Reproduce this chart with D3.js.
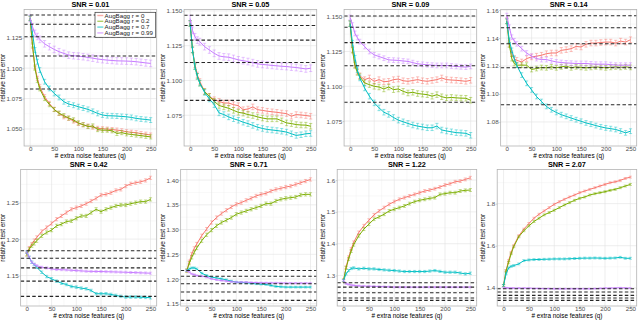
<!DOCTYPE html>
<html><head><meta charset="utf-8">
<script src="https://cdn.jsdelivr.net/npm/d3@7"></script>
<style>body{margin:0;background:#fff}svg{display:block}</style>
</head><body><svg id="c" width="640" height="320"></svg>
<script>
const titles = ["SNR = 0.01","SNR = 0.05","SNR = 0.09","SNR = 0.14","SNR = 0.42","SNR = 0.71","SNR = 1.22","SNR = 2.07"];
const seriesNames = ["AugBagg r = 0","AugBagg r = 0.2","AugBagg r = 0.7","AugBagg r = 0.99"];
const q = [0,5,10,15,20,30,40,50,60,70,80,90,100,110,120,130,140,150,160,170,180,190,200,210,220,230,240,250];
const xTicks = [0,50,100,150,200,250];
const xLabel = "# extra noise features (q)";
const yLabel = "relative test error";

// r = 0
const r0 = [
 [1.141,1.118,1.101,1.0916,1.0847,1.0765,1.071,1.0661,1.0628,1.060,1.0587,1.0565,1.0546,1.0535,1.0524,1.0515,1.0505,1.0502,1.0499,1.0495,1.0491,1.0485,1.0477,1.0473,1.0469,1.0462,1.0457,1.045],
 [1.141,1.122,1.1112,1.104,1.0993,1.0921,1.0886,1.0862,1.085,1.0838,1.0838,1.0826,1.0819,1.079,1.0795,1.081,1.079,1.0785,1.0779,1.0775,1.0771,1.0766,1.0762,1.0743,1.0755,1.0752,1.0748,1.0743],
 [1.1452,1.1262,1.1155,1.1107,1.1076,1.1048,1.106,1.1036,1.1048,1.1033,1.1036,1.1048,1.1052,1.104,1.1036,1.1042,1.1048,1.104,1.1036,1.1042,1.1048,1.106,1.1048,1.1045,1.1043,1.104,1.1036,1.1043],
 [1.1524,1.1359,1.1288,1.1253,1.1241,1.1229,1.1253,1.1265,1.127,1.1277,1.1288,1.1293,1.1293,1.1312,1.1317,1.1324,1.134,1.1336,1.1355,1.1364,1.1364,1.1368,1.1371,1.1371,1.1364,1.1378,1.1371,1.1388],
 [1.179,1.1877,1.1932,1.198,1.2023,1.2105,1.2159,1.2214,1.2273,1.2318,1.2364,1.2409,1.2432,1.2455,1.2486,1.2523,1.2559,1.2605,1.2614,1.2636,1.2668,1.2682,1.2727,1.2759,1.2773,1.2786,1.2805,1.2841],
 [1.2171,1.235,1.2506,1.262,1.2707,1.2875,1.3009,1.3143,1.3243,1.3324,1.339,1.3457,1.3511,1.3545,1.3591,1.3632,1.3679,1.3712,1.3732,1.3779,1.3812,1.3833,1.3859,1.3879,1.3913,1.3946,1.398,1.4013],
 [1.2844,1.326,1.3573,1.383,1.4042,1.4354,1.4563,1.474,1.4906,1.5031,1.5135,1.524,1.5323,1.5396,1.5448,1.55,1.5552,1.5604,1.5656,1.5688,1.5729,1.5781,1.5844,1.5885,1.5948,1.5969,1.6021,1.6073],
 [1.411,1.4819,1.5291,1.568,1.600,1.6472,1.6787,1.7055,1.7307,1.7496,1.7654,1.7811,1.7969,1.8094,1.8205,1.8315,1.8409,1.852,1.8598,1.8677,1.8756,1.8835,1.8913,1.8992,1.9039,1.9102,1.9197,1.926]
];
// r = 0.2
const r02 = [
 [1.141,1.119,1.100,1.090,1.083,1.075,1.070,1.066,1.063,1.061,1.059,1.0575,1.055,1.0535,1.052,1.0525,1.0495,1.049,1.049,1.0485,1.0463,1.047,1.046,1.0455,1.045,1.0445,1.044,1.0435],
 [1.141,1.122,1.110,1.103,1.098,1.092,1.0885,1.085,1.082,1.081,1.080,1.0785,1.0771,1.0765,1.0755,1.0748,1.0738,1.073,1.0724,1.0724,1.0724,1.071,1.0695,1.069,1.0683,1.068,1.0679,1.0671],
 [1.145,1.126,1.115,1.110,1.107,1.1024,1.1012,1.100,1.0995,1.0981,1.0995,1.0976,1.0981,1.0964,1.0952,1.0957,1.0948,1.0944,1.094,1.0929,1.094,1.0925,1.0917,1.092,1.0917,1.0915,1.0914,1.090],
 [1.152,1.135,1.1253,1.1218,1.1206,1.1206,1.1206,1.1175,1.1182,1.1189,1.1187,1.1194,1.1187,1.1194,1.1199,1.1187,1.1194,1.119,1.1187,1.119,1.1194,1.119,1.1187,1.119,1.1194,1.119,1.1194,1.119],
 [1.179,1.1864,1.1909,1.194,1.1977,1.2045,1.2091,1.2123,1.2182,1.2205,1.2241,1.225,1.2286,1.2318,1.2318,1.2364,1.2409,1.2377,1.2409,1.2432,1.2455,1.2468,1.2468,1.2486,1.25,1.2514,1.2514,1.2545],
 [1.2171,1.232,1.2439,1.254,1.2627,1.2774,1.2895,1.2989,1.3076,1.3143,1.319,1.3243,1.331,1.3344,1.3377,1.3411,1.3444,1.3478,1.3524,1.3524,1.3578,1.3612,1.3632,1.3645,1.3658,1.3699,1.3712,1.3712],
 [1.2844,1.324,1.352,1.377,1.3969,1.425,1.4458,1.4615,1.4771,1.4844,1.4927,1.5031,1.5083,1.5135,1.5188,1.526,1.5323,1.5365,1.5396,1.5427,1.5448,1.5552,1.5573,1.5604,1.5604,1.5656,1.5677,1.5688],
 [1.411,1.480,1.5213,1.562,1.5953,1.6425,1.6709,1.6945,1.715,1.7307,1.7465,1.7575,1.7685,1.7811,1.7937,1.8047,1.8157,1.8252,1.8315,1.8409,1.8472,1.852,1.8567,1.863,1.8677,1.8756,1.8835,1.8913]
];
// r = 0.7
const r07 = [
 [1.141,1.1286,1.1149,1.1053,1.0984,1.0888,1.0833,1.0792,1.0759,1.0724,1.0705,1.0695,1.0683,1.0672,1.0661,1.0645,1.0628,1.0615,1.0609,1.0608,1.0606,1.0603,1.060,1.0595,1.0587,1.0582,1.0578,1.0573],
 [1.141,1.1219,1.110,1.1029,1.0981,1.0914,1.0867,1.0826,1.0767,1.0755,1.0738,1.0725,1.0714,1.070,1.069,1.0677,1.0664,1.0655,1.0648,1.0644,1.064,1.0635,1.0629,1.0617,1.0605,1.061,1.0617,1.0619],
 [1.145,1.131,1.1202,1.1119,1.106,1.0988,1.0929,1.0881,1.0845,1.0814,1.0798,1.0776,1.0757,1.0745,1.0733,1.0722,1.0714,1.0708,1.0702,1.0702,1.0714,1.0686,1.0679,1.0673,1.0667,1.0665,1.0662,1.0648],
 [1.152,1.1383,1.1312,1.1253,1.1206,1.1135,1.1076,1.1029,1.0982,1.0946,1.0911,1.0887,1.0868,1.0852,1.084,1.0828,1.0816,1.0805,1.0793,1.0784,1.0774,1.0765,1.0757,1.0752,1.0746,1.0735,1.0722,1.0734],
 [1.182,1.175,1.1682,1.165,1.1614,1.1545,1.1486,1.1455,1.1423,1.1395,1.1377,1.135,1.1341,1.1327,1.1318,1.1295,1.125,1.125,1.125,1.1241,1.1227,1.1214,1.1205,1.1205,1.1205,1.1202,1.12,1.1195],
 [1.2171,1.2205,1.2225,1.2225,1.2205,1.2118,1.2071,1.2037,1.2024,1.2004,1.1984,1.1957,1.1937,1.193,1.1924,1.1914,1.1904,1.1897,1.189,1.187,1.185,1.1843,1.1837,1.1837,1.1837,1.1837,1.1837,1.1837],
 [1.2844,1.3052,1.3156,1.322,1.324,1.3208,1.3229,1.3208,1.3208,1.319,1.3177,1.3166,1.3156,1.314,1.3125,1.3125,1.3125,1.3125,1.3125,1.314,1.3156,1.313,1.3104,1.3104,1.3104,1.308,1.3052,1.3073],
 [1.411,1.4661,1.4945,1.502,1.5055,1.5134,1.5291,1.5323,1.5339,1.5345,1.5354,1.536,1.537,1.537,1.537,1.538,1.539,1.5402,1.541,1.541,1.5417,1.541,1.5402,1.541,1.5417,1.5449,1.5402,1.5402]
];
// r = 0.99
const r099 = [
 [1.141,1.134,1.1286,1.126,1.1236,1.120,1.1176,1.1154,1.1135,1.1121,1.1107,1.1102,1.1099,1.1094,1.1088,1.1082,1.1075,1.107,1.1066,1.1063,1.106,1.1059,1.1058,1.1056,1.1053,1.1048,1.1043,1.1039],
 [1.1445,1.136,1.1314,1.129,1.1279,1.1243,1.1219,1.1195,1.1176,1.117,1.1167,1.1158,1.1148,1.1142,1.1136,1.1128,1.1119,1.1115,1.1112,1.1108,1.1105,1.1102,1.110,1.1096,1.1093,1.1088,1.1083,1.1088],
 [1.1495,1.144,1.138,1.135,1.1321,1.1286,1.125,1.1226,1.1214,1.1202,1.119,1.1188,1.1186,1.1182,1.1179,1.117,1.1162,1.1158,1.1155,1.1152,1.115,1.115,1.115,1.1146,1.1143,1.114,1.1138,1.1143],
 [1.156,1.1477,1.1406,1.138,1.1359,1.1324,1.1293,1.127,1.1253,1.1246,1.1246,1.1237,1.1229,1.1225,1.1222,1.122,1.1218,1.1218,1.1218,1.1215,1.1213,1.1213,1.1213,1.121,1.1206,1.1206,1.1206,1.1206],
 [1.182,1.175,1.1682,1.1655,1.1636,1.1614,1.1605,1.1591,1.1582,1.158,1.1577,1.1572,1.1568,1.1564,1.1559,1.1557,1.1556,1.1555,1.1553,1.1551,1.1549,1.1547,1.1545,1.1542,1.154,1.1537,1.1535,1.1532],
 [1.2171,1.2138,1.2104,1.209,1.2071,1.2058,1.2037,1.2004,1.1984,1.197,1.1957,1.1947,1.1937,1.1937,1.1937,1.193,1.1927,1.1924,1.1923,1.1922,1.1921,1.192,1.1917,1.1917,1.1917,1.1917,1.1917,1.1917],
 [1.2844,1.274,1.2719,1.27,1.2688,1.2677,1.2667,1.2663,1.266,1.2655,1.265,1.2645,1.2635,1.2635,1.2635,1.2635,1.2635,1.2635,1.2635,1.2635,1.2635,1.2635,1.2635,1.2635,1.2635,1.2635,1.2635,1.2635],
 [1.40,1.40,1.3984,1.3984,1.3984,1.3984,1.3984,1.3984,1.397,1.397,1.396,1.396,1.3953,1.3953,1.3953,1.3953,1.3953,1.3953,1.3953,1.3953,1.396,1.397,1.3984,1.3984,1.399,1.40,1.399,1.3984]
];
// error-bar half widths per panel: [r0, r0.2, r0.7, r0.99]
const errHalf = [
 [0.0017,0.0017,0.002,0.0027],
 [0.002,0.002,0.002,0.0024],
 [0.002,0.002,0.002,0.0017],
 [0.002,0.0017,0.0017,0.0017],
 [0.0022,0.0022,0.0017,0.0014],
 [0.0033,0.0033,0.0017,0.0014],
 [0.0045,0.0045,0.0035,0.0022],
 [0.0045,0.0045,0.0045,0.0022]
];
// horizontal dashed reference levels per panel
const dashed = [
 [1.1437,1.136,1.1258,1.110,1.0828],
 [1.1469,1.1395,1.129,1.1129,1.0857],
 [1.1505,1.1424,1.1314,1.1148,1.0886],
 [1.156,1.1473,1.1359,1.1187,1.0923],
 [1.1841,1.1736,1.1605,1.1423,1.1214],
 [1.2171,1.2058,1.1904,1.1736,1.1569],
 [1.2771,1.2635,1.2458,1.2292,1.2219],
 [1.3953,1.3795,1.3638,1.3512,1.3402]
];
const yDomains = [
 [1.036,1.1482],[1.0529,1.151],[1.0571,1.1552],[1.0628,1.1604],
 [1.1082,1.2955],[1.1455,1.4214],[1.2042,1.6333],[1.3134,1.9622]
];
const yTicks = [
 [1.050,1.075,1.100,1.125],[1.075,1.100,1.125,1.150],[1.075,1.100,1.125,1.150],[1.08,1.10,1.12,1.14,1.16],
 [1.15,1.20,1.25],[1.15,1.20,1.25,1.30,1.35,1.40],[1.3,1.4,1.5,1.6],[1.4,1.6,1.8]
];
const tickFormats = [".3f",".3f",".3f",".2f",".2f",".2f",".1f",".1f"];
const colors = ["#F8766D","#7CAE00","#00BFC4","#C77CFF"];

const allSeries = [r0, r02, r07, r099];
const FONT = "'Liberation Sans', Arial, Helvetica, sans-serif";
const svg = d3.select("#c");

titles.forEach((title, i) => {
  const col = i % 4, row = Math.floor(i / 4);
  const g = svg.append("g").attr("transform", `translate(${col*160},${row*160})`);
  const fmt = d3.format(tickFormats[i]);
  const tmp = g.append("text").style("font-size","6.2px").style("font-family",FONT);
  let tw = 0;
  yTicks[i].forEach(v => { tmp.text(fmt(v)); tw = Math.max(tw, tmp.node().getComputedTextLength()); });
  tmp.remove();
  const L = 8.6 + tw, R = 156.7, T = 9.5, B = 146;
  const x = d3.scaleLinear().domain([-12.5, 262.5]).range([L, R]);
  const y = d3.scaleLinear().domain(yDomains[i]).range([B, T]);

  // grid
  const grid = g.append("g");
  const yt = yTicks[i];
  const step = yt[1] - yt[0];
  const yMinor = [];
  for (let k = -1; k < yt.length; k++) {
    const v = yt[0] + (k + 0.5) * step;
    if (v > yDomains[i][0] && v < yDomains[i][1]) yMinor.push(v);
  }
  const xMinor = [25,75,125,175,225];
  grid.selectAll(".ymi").data(yMinor).join("line")
    .attr("x1",L).attr("x2",R).attr("y1",d=>y(d)).attr("y2",d=>y(d))
    .attr("stroke","#f0f0f0").attr("stroke-width",0.4);
  grid.selectAll(".xmi").data(xMinor).join("line")
    .attr("y1",T).attr("y2",B).attr("x1",d=>x(d)).attr("x2",d=>x(d))
    .attr("stroke","#f0f0f0").attr("stroke-width",0.4);
  grid.selectAll(".yma").data(yt).join("line")
    .attr("x1",L).attr("x2",R).attr("y1",d=>y(d)).attr("y2",d=>y(d))
    .attr("stroke","#e3e3e3").attr("stroke-width",0.6);
  grid.selectAll(".xma").data(xTicks).join("line")
    .attr("y1",T).attr("y2",B).attr("x1",d=>x(d)).attr("x2",d=>x(d))
    .attr("stroke","#e3e3e3").attr("stroke-width",0.6);

  // series
  allSeries.forEach((ser, s) => {
    const vals = ser[i];
    const e = errHalf[i][s];
    const sg = g.append("g");
    const eb = sg.append("g").attr("stroke", colors[s]).attr("stroke-opacity",0.55).attr("stroke-width",0.8);
    q.forEach((qq, k) => {
      const cx = x(qq), y1 = y(vals[k]-e), y2 = y(vals[k]+e);
      eb.append("line").attr("x1",cx).attr("x2",cx).attr("y1",y1).attr("y2",y2);
      eb.append("line").attr("x1",cx-1.6).attr("x2",cx+1.6).attr("y1",y1).attr("y2",y1);
      eb.append("line").attr("x1",cx-1.6).attr("x2",cx+1.6).attr("y1",y2).attr("y2",y2);
    });
    sg.append("path").datum(vals)
      .attr("fill","none").attr("stroke",colors[s]).attr("stroke-width",1.0)
      .attr("d", d3.line().x((d,k)=>x(q[k])).y(d=>y(d)));
  });

  // dashed reference lines
  g.append("g").selectAll("line").data(dashed[i]).join("line")
    .attr("x1",L).attr("x2",R).attr("y1",d=>y(d)).attr("y2",d=>y(d))
    .attr("stroke","#262626").attr("stroke-width",1.05).attr("stroke-dasharray","3.5,2.3");

  // frame
  g.append("rect").attr("x",L).attr("y",T).attr("width",R-L).attr("height",B-T)
    .attr("fill","none").attr("stroke","#b3b3b3").attr("stroke-width",0.8);

  // axes
  const xa = g.append("g").attr("transform",`translate(0,${B})`)
    .call(d3.axisBottom(x).tickValues(xTicks).tickSize(1.5).tickPadding(0).tickFormat(d3.format("d")));
  const ya = g.append("g").attr("transform",`translate(${L},0)`)
    .call(d3.axisLeft(y).tickValues(yt).tickSize(1.5).tickPadding(0.5).tickFormat(fmt));
  [xa, ya].forEach(a => {
    a.select(".domain").remove();
    a.selectAll(".tick line").attr("stroke","#b3b3b3").attr("stroke-width",0.6);
    a.selectAll(".tick text").attr("fill","#4d4d4d").style("font-size","6.2px").style("font-family",FONT);
  });
  xa.selectAll(".tick text").attr("y",0).attr("dy","5.1px");

  // titles
  g.append("text").attr("x",(L+R)/2).attr("y",7.3).attr("text-anchor","middle")
    .style("font-family",FONT).style("font-size","7.3px").style("font-weight","bold").attr("fill","#000").text(title);
  g.append("text").attr("x",(L+R)/2).attr("y",158.2).attr("text-anchor","middle")
    .style("font-family",FONT).style("font-size","6.4px").attr("fill","#000").text(xLabel);
  g.append("text").attr("transform",`translate(5.1,${(T+B)/2}) rotate(-90)`).attr("text-anchor","middle")
    .style("font-family",FONT).style("font-size","6.4px").attr("fill","#000").text(yLabel);

  // legend in first panel
  if (i === 0) {
    const lg = g.append("g");
    const bx = 95, by = 12.3, bw = 60.7, bh = 25;
    lg.append("rect").attr("x",bx).attr("y",by).attr("width",bw).attr("height",bh)
      .attr("fill","#fff").attr("stroke","#333").attr("stroke-width",0.7);
    seriesNames.forEach((nm, s) => {
      const cy = by + 3.2 + s * 5.8;
      lg.append("line").attr("x1",bx+2.3).attr("x2",bx+8.3).attr("y1",cy).attr("y2",cy)
        .attr("stroke",colors[s]).attr("stroke-opacity",0.6).attr("stroke-width",1.4);
      lg.append("text").attr("x",bx+9.6).attr("y",cy+2.1)
        .style("font-family",FONT).style("font-size","6.2px").attr("fill","#1a1a1a").text(nm);
    });
  }
});
</script>
</body></html>
